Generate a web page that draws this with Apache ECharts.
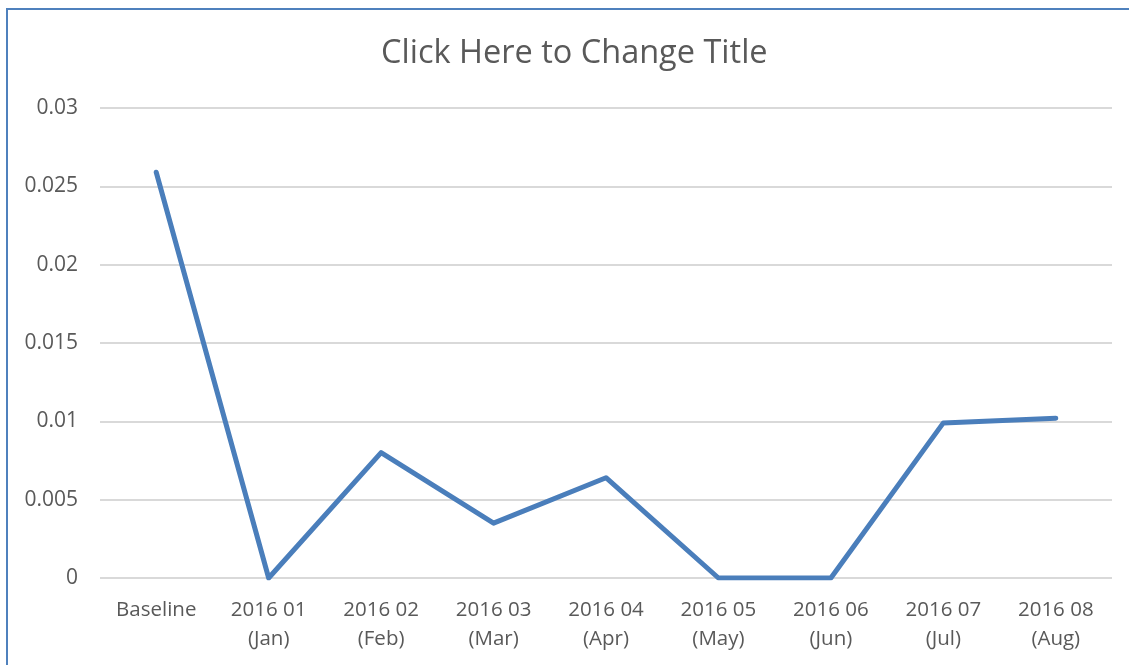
<!DOCTYPE html>
<html>
<head>
<meta charset="utf-8">
<script src="https://cdn.jsdelivr.net/npm/echarts@6/dist/echarts.min.js"></script>
<style>
  html, body { margin: 0; padding: 0; background: #fff; }
  #chart { width: 1129px; height: 665px; }
</style>
</head>
<body>
<div id="chart"></div>
<script>
const categories = [
  "Baseline", "2016 01\n(Jan)", "2016 02\n(Feb)", "2016 03\n(Mar)", "2016 04\n(Apr)",
  "2016 05\n(May)", "2016 06\n(Jun)", "2016 07\n(Jul)", "2016 08\n(Aug)"
]
const values = [0.0259, 0, 0.008, 0.0035, 0.0064, 0, 0, 0.0099, 0.0102]
const titleText = "Click Here to Change Title"

const font = "'Open Sans', 'Liberation Sans', sans-serif"
let chart = echarts.init(document.getElementById("chart"), null, { renderer: "canvas" })

chart.setOption({
  animation: false,
  title: {
    text: titleText,
    // sits a bit right of the page centre in the original
    left: 376,
    top: 32,
    textStyle: { fontFamily: font, fontSize: 32.5, fontWeight: "normal", color: "#595959" }
  },
  graphic: [{
    type: "rect",
    shape: { x: 7, y: 9, width: 1200, height: 700 },
    style: { fill: null, stroke: "#4f81bd", lineWidth: 2 },
    silent: true
  }],
  grid: { left: 100, right: 17, top: 108, bottom: 87, containLabel: false },
  xAxis: {
    type: "category",
    data: categories,
    boundaryGap: true,
    axisLine: { show: false },
    axisTick: { show: false },
    axisLabel: {
      fontFamily: font, fontSize: 20.5, color: "#595959",
      margin: 18, lineHeight: 29, interval: 0
    }
  },
  yAxis: {
    type: "value",
    min: 0,
    max: 0.03,
    interval: 0.005,
    axisLine: { show: false },
    axisTick: { show: false },
    splitLine: { lineStyle: { color: "#d9d9d9", width: 2 } },
    axisLabel: {
      fontFamily: font, fontSize: 21, color: "#595959", margin: 22,
      formatter: v => String(parseFloat(v.toFixed(4)))
    }
  },
  series: [{
    type: "line",
    data: values,
    symbol: "none",
    lineStyle: { color: "#4a7ebb", width: 5, cap: "round", join: "round" }
  }]
})
</script>
</body>
</html>
